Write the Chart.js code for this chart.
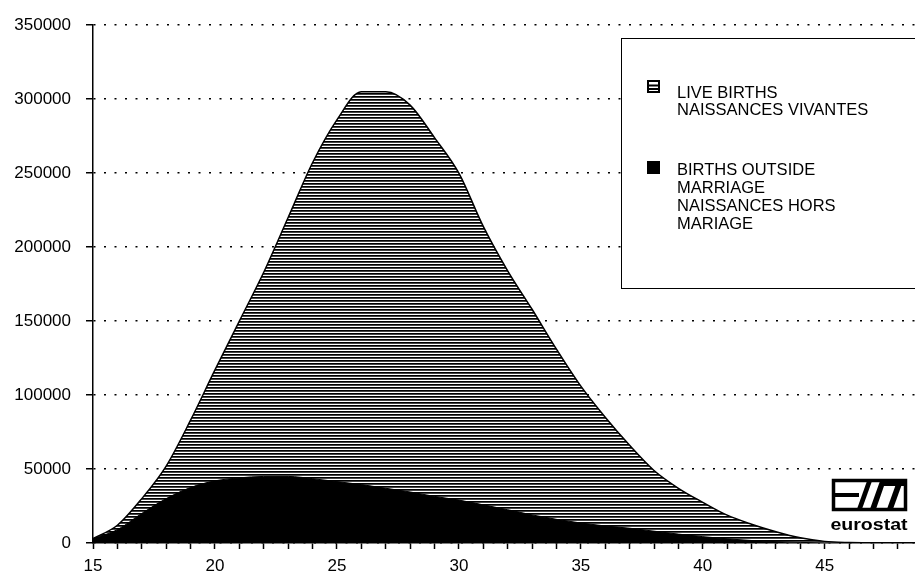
<!DOCTYPE html>
<html>
<head>
<meta charset="utf-8">
<title>Live births and births outside marriage by age of mother</title>
<script src="https://cdn.jsdelivr.net/npm/chart.js@4.4.0/dist/chart.umd.min.js"></script>
<style>
    html, body { margin: 0; padding: 0; background: #fff; }
    #wrap { width: 915px; height: 573px; position: relative; }
</style>
</head>
<body>
<div id="wrap"><canvas id="graphCanvas" width="915" height="573"></canvas></div>
<script>
// Age of mother (x axis)
const ages = [15, 16, 17, 18, 19, 20, 21, 22, 23, 24, 25, 26, 27, 28, 29, 30, 31,
    32, 33, 34, 35, 36, 37, 38, 39, 40, 41, 42, 43, 44, 45, 46, 47, 48];

// Live births / naissances vivantes
const liveBirths = [3000, 12000, 30000, 52000, 83000, 117000, 150000, 183000, 220000,
    257000, 286000, 305000, 305000, 296000, 274000, 250000, 214000, 184000, 158000,
    131000, 106000, 85000, 66000, 49000, 37000, 27500, 18800, 12700, 7600, 3500, 1100,
    300, 0, 0];

// Births outside marriage / naissances hors mariage
const birthsOutside = [3000, 9000, 20000, 30000, 37500, 42000, 44000, 45000, 45000,
    43500, 41500, 39500, 37000, 34500, 31500, 29000, 25800, 22500, 19000, 16000, 13500,
    11500, 10000, 8000, 6000, 4300, 2800, 1700, 900, 400, 100, 0, 0, 0];

// Labelled ticks
const xLabels = [15, 20, 25, 30, 35, 40, 45];
const yMax = 350000;
const yStep = 50000;

// Legend text
const legendLive = ['LIVE BIRTHS', 'NAISSANCES VIVANTES'];
const legendOutside = ['BIRTHS OUTSIDE', 'MARRIAGE', 'NAISSANCES HORS', 'MARIAGE'];

const FONT = "'Liberation Sans', Arial, sans-serif";

const ctx = document.getElementById('graphCanvas').getContext('2d');

// horizontal hatch used for the live births area
const makeStripes = () => {
    const c = document.createElement('canvas');
    c.width = 4;
    c.height = 3;
    const p = c.getContext('2d');
    p.fillStyle = '#fff';
    p.fillRect(0, 0, 4, 3);
    p.fillStyle = '#000';
    p.fillRect(0, 0, 4, 1);
    p.fillStyle = '#444';
    p.fillRect(0, 1, 4, 1);
    return ctx.createPattern(c, 'repeat');
};
const stripes = makeStripes();

// Legend box and logo drawn on top of the chart
const decorations = {
    id: 'decorations',
    afterDraw(chart) {
        const c = chart.ctx;
        c.save();

        // legend frame
        c.strokeStyle = '#000';
        c.lineWidth = 1;
        c.fillStyle = '#fff';
        c.fillRect(621.5, 38.5, 300, 250);
        c.strokeRect(621.5, 38.5, 300, 250);

        // hatched swatch
        c.fillStyle = '#fff';
        c.fillRect(647, 80, 13, 13);
        c.lineWidth = 2;
        c.strokeRect(648, 81, 11, 11);
        c.fillStyle = '#000';
        c.fillRect(648, 84.5, 11, 2);
        c.fillRect(648, 88, 11, 2);

        // solid swatch
        c.fillRect(647, 161, 13, 13);

        c.font = '16.5px ' + FONT;
        c.textBaseline = 'middle';
        c.textAlign = 'left';
        legendLive.forEach((t, i) => c.fillText(t, 677, 93 + i * 17.5));
        legendOutside.forEach((t, i) => c.fillText(t, 677, 170 + i * 18));

        // eurostat logo
        c.lineWidth = 3.5;
        c.strokeRect(833.5, 480.5, 72, 29);
        c.fillRect(833, 493, 26, 4);
        c.beginPath();
        c.moveTo(857, 509); c.lineTo(862, 509); c.lineTo(872, 481); c.lineTo(867, 481);
        c.closePath();
        c.fill();
        c.beginPath();
        c.moveTo(870, 509); c.lineTo(876, 509); c.lineTo(884, 486); c.lineTo(906, 486);
        c.lineTo(906, 481); c.lineTo(880, 481); c.closePath();
        c.fill();
        c.beginPath();
        c.moveTo(887, 509); c.lineTo(893, 509); c.lineTo(902, 484); c.lineTo(896, 484);
        c.closePath();
        c.fill();
        c.font = 'bold 17px ' + FONT;
        c.textAlign = 'center';
        c.textBaseline = 'alphabetic';
        c.save();
        c.translate(869, 530);
        c.scale(1.15, 1);
        c.fillText('eurostat', 0, 0);
        c.restore();

        c.restore();
    }
};

new Chart(ctx, {
    type: 'line',
    data: {
        datasets: [
            {
                label: 'BIRTHS OUTSIDE MARRIAGE',
                data: ages.map((a, i) => ({ x: a, y: birthsOutside[i] })),
                borderColor: '#000',
                backgroundColor: '#000',
                borderWidth: 1,
                fill: 'origin',
                pointRadius: 0,
                cubicInterpolationMode: 'monotone'
            },
            {
                label: 'LIVE BIRTHS',
                data: ages.map((a, i) => ({ x: a, y: liveBirths[i] })),
                borderColor: '#000',
                backgroundColor: stripes,
                borderWidth: 1.5,
                fill: 'origin',
                pointRadius: 0,
                cubicInterpolationMode: 'monotone'
            }
        ]
    },
    options: {
        responsive: false,
        animation: false,
        devicePixelRatio: 1,
        layout: { padding: { top: 21, left: 0, right: 0, bottom: 0 } },
        plugins: {
            legend: { display: false },
            tooltip: { enabled: false }
        },
        scales: {
            x: {
                type: 'linear',
                min: 15,
                max: 48.7,
                afterFit: (scale) => { scale.height = 30; },
                ticks: {
                    stepSize: 1,
                    includeBounds: false,
                    autoSkip: false,
                    maxRotation: 0,
                    padding: 7,
                    color: '#000',
                    font: { family: FONT, size: 17 },
                    callback: (v) => xLabels.includes(v) ? String(v) : ''
                },
                grid: {
                    drawOnChartArea: false,
                    tickLength: 6,
                    tickWidth: 1.5,
                    tickColor: '#000'
                },
                border: { display: true, color: '#000', width: 1.5 }
            },
            y: {
                min: 0,
                max: yMax,
                afterFit: (scale) => { scale.width = 93; },
                ticks: {
                    stepSize: yStep,
                    padding: 15,
                    color: '#000',
                    font: { family: FONT, size: 17 },
                    callback: (v) => String(v)
                },
                grid: {
                    color: '#000',
                    lineWidth: 1.5,
                    tickLength: 7,
                    tickWidth: 1.5,
                    tickColor: '#000',
                    tickBorderDash: []
                },
                border: { display: true, color: '#000', width: 1.5, dash: [2, 8.5] }
            }
        }
    },
    plugins: [decorations]
});
</script>
</body>
</html>
